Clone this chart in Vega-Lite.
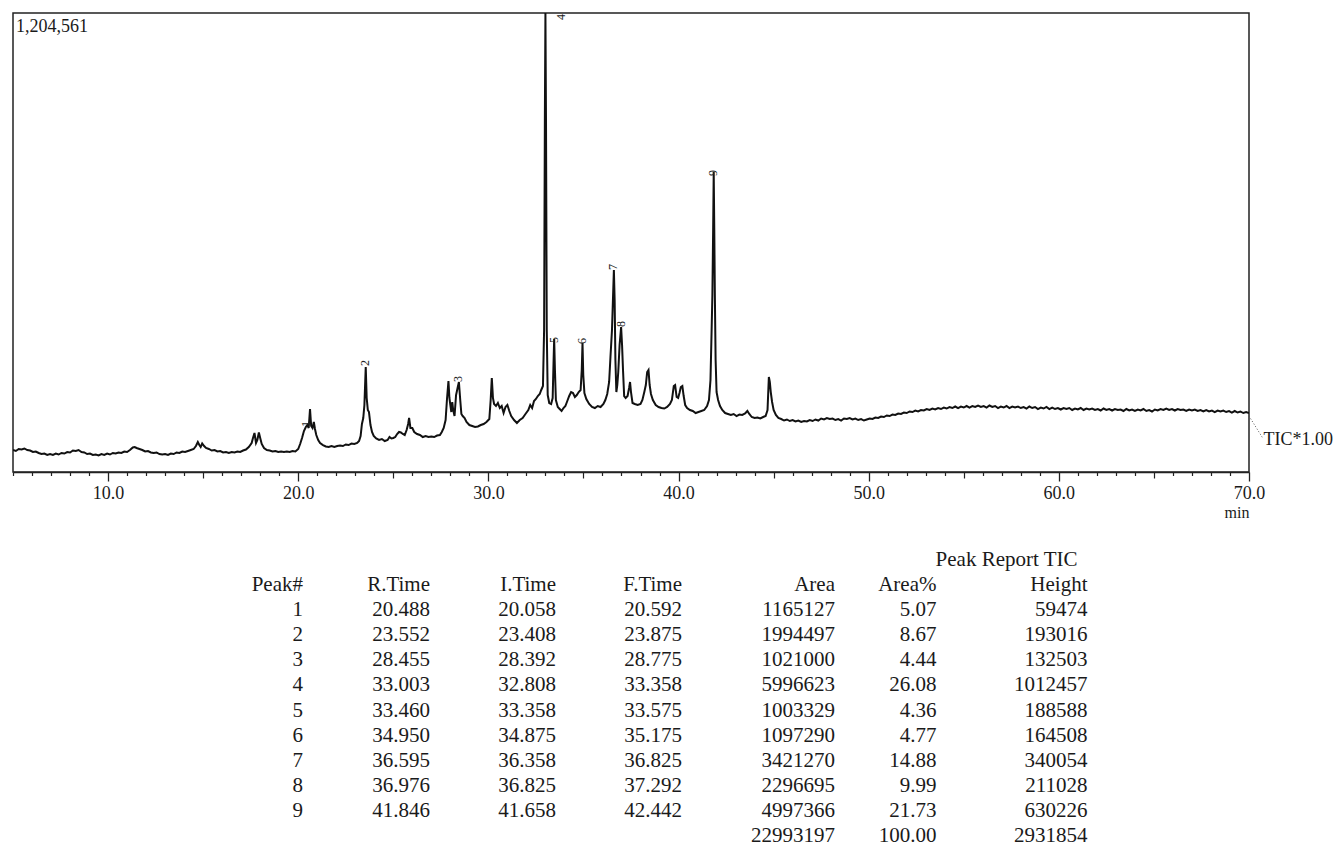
{
"$schema": "https://vega.github.io/schema/vega-lite/v6.json",
"background": "white",
"padding": {"left": 11, "top": 12, "right": 2, "bottom": 0},
"bounds": "flush",
"spacing": 75,
"config": {"font": "Liberation Serif", "view": {"stroke": "#222", "strokeWidth": 1.5}, "text": {"font": "Liberation Serif", "color": "#1a1a1a"}},
"datasets": {
"trace": [
{"t":5.00,"i":57700},{"t":5.15,"i":55100},{"t":5.30,"i":60400},{"t":5.45,"i":59000},{"t":5.60,"i":61700},{"t":5.75,"i":57700},{"t":5.90,"i":56400},{"t":6.05,"i":52500},{"t":6.20,"i":53800},{"t":6.35,"i":49900},{"t":6.50,"i":47200},{"t":6.65,"i":48500},{"t":6.80,"i":44600},{"t":6.95,"i":47200},{"t":7.10,"i":44600},{"t":7.25,"i":48500},{"t":7.40,"i":45900},{"t":7.55,"i":49900},{"t":7.70,"i":48500},{"t":7.85,"i":52500},{"t":8.00,"i":51200},{"t":8.15,"i":56400},{"t":8.30,"i":55100},{"t":8.45,"i":57700},{"t":8.60,"i":52500},{"t":8.75,"i":51200},{"t":8.90,"i":47200},{"t":9.05,"i":48500},{"t":9.20,"i":44600},{"t":9.35,"i":45900},{"t":9.50,"i":43300},{"t":9.65,"i":47200},{"t":9.80,"i":44600},{"t":9.95,"i":48500},{"t":10.10,"i":45900},{"t":10.25,"i":49900},{"t":10.40,"i":48500},{"t":10.55,"i":51200},{"t":10.70,"i":49900},{"t":10.85,"i":53800},{"t":11.00,"i":52500},{"t":11.15,"i":57700},{"t":11.30,"i":64300},{"t":11.40,"i":65600},{"t":11.50,"i":63000},{"t":11.65,"i":60400},{"t":11.80,"i":57700},{"t":11.95,"i":53800},{"t":12.10,"i":55100},{"t":12.25,"i":51200},{"t":12.40,"i":49900},{"t":12.55,"i":51200},{"t":12.70,"i":47200},{"t":12.85,"i":45900},{"t":13.00,"i":47200},{"t":13.15,"i":44600},{"t":13.30,"i":48500},{"t":13.45,"i":47200},{"t":13.60,"i":51200},{"t":13.75,"i":49900},{"t":13.90,"i":53800},{"t":14.05,"i":52500},{"t":14.20,"i":55100},{"t":14.35,"i":57700},{"t":14.50,"i":60400},{"t":14.62,"i":68200},{"t":14.72,"i":78700},{"t":14.80,"i":70800},{"t":14.87,"i":65600},{"t":14.95,"i":74800},{"t":15.05,"i":68200},{"t":15.15,"i":63000},{"t":15.30,"i":60400},{"t":15.45,"i":56400},{"t":15.60,"i":57700},{"t":15.75,"i":53800},{"t":15.90,"i":55100},{"t":16.05,"i":51200},{"t":16.20,"i":52500},{"t":16.35,"i":49900},{"t":16.50,"i":52500},{"t":16.65,"i":51200},{"t":16.80,"i":53800},{"t":16.95,"i":52500},{"t":17.10,"i":56400},{"t":17.25,"i":59000},{"t":17.40,"i":65600},{"t":17.55,"i":76100},{"t":17.62,"i":89200},{"t":17.70,"i":102300},{"t":17.78,"i":76100},{"t":17.85,"i":84000},{"t":17.93,"i":103600},{"t":18.00,"i":89200},{"t":18.08,"i":73500},{"t":18.20,"i":63000},{"t":18.35,"i":57700},{"t":18.50,"i":56400},{"t":18.65,"i":53800},{"t":18.80,"i":55100},{"t":18.95,"i":52500},{"t":19.10,"i":53800},{"t":19.25,"i":52500},{"t":19.40,"i":53800},{"t":19.55,"i":52500},{"t":19.70,"i":55100},{"t":19.85,"i":53800},{"t":20.00,"i":60400},{"t":20.10,"i":73500},{"t":20.20,"i":89200},{"t":20.30,"i":107600},{"t":20.40,"i":118100},{"t":20.48,"i":123300},{"t":20.55,"i":115500},{"t":20.62,"i":165300},{"t":20.68,"i":120700},{"t":20.75,"i":115500},{"t":20.82,"i":131200},{"t":20.88,"i":112800},{"t":20.95,"i":97100},{"t":21.05,"i":84000},{"t":21.15,"i":76100},{"t":21.30,"i":70800},{"t":21.45,"i":66900},{"t":21.60,"i":65600},{"t":21.75,"i":68200},{"t":21.90,"i":65600},{"t":22.05,"i":68200},{"t":22.20,"i":69500},{"t":22.35,"i":68200},{"t":22.50,"i":72200},{"t":22.65,"i":70800},{"t":22.80,"i":74800},{"t":22.95,"i":73500},{"t":23.10,"i":76100},{"t":23.20,"i":81300},{"t":23.28,"i":94500},{"t":23.35,"i":126000},{"t":23.42,"i":141700},{"t":23.48,"i":175800},{"t":23.55,"i":275500},{"t":23.60,"i":194200},{"t":23.66,"i":162700},{"t":23.72,"i":157400},{"t":23.80,"i":123300},{"t":23.88,"i":105000},{"t":23.97,"i":94500},{"t":24.10,"i":87900},{"t":24.25,"i":84000},{"t":24.40,"i":86600},{"t":24.55,"i":81300},{"t":24.70,"i":84000},{"t":24.80,"i":91800},{"t":24.90,"i":87900},{"t":25.00,"i":89200},{"t":25.10,"i":91800},{"t":25.20,"i":99700},{"t":25.30,"i":105000},{"t":25.40,"i":103600},{"t":25.50,"i":99700},{"t":25.60,"i":97100},{"t":25.70,"i":110200},{"t":25.78,"i":126000},{"t":25.83,"i":141700},{"t":25.90,"i":115500},{"t":26.00,"i":115500},{"t":26.10,"i":105000},{"t":26.25,"i":99700},{"t":26.40,"i":97100},{"t":26.55,"i":91800},{"t":26.70,"i":94500},{"t":26.85,"i":91800},{"t":27.00,"i":93200},{"t":27.15,"i":91800},{"t":27.30,"i":95800},{"t":27.45,"i":97100},{"t":27.55,"i":105000},{"t":27.65,"i":115500},{"t":27.75,"i":136400},{"t":27.82,"i":188900},{"t":27.90,"i":238800},{"t":27.95,"i":194200},{"t":28.00,"i":175800},{"t":28.05,"i":157400},{"t":28.10,"i":183700},{"t":28.15,"i":162700},{"t":28.22,"i":146900},{"t":28.30,"i":202000},{"t":28.38,"i":220400},{"t":28.45,"i":236200},{"t":28.52,"i":188900},{"t":28.58,"i":152200},{"t":28.65,"i":146900},{"t":28.75,"i":141700},{"t":28.85,"i":131200},{"t":29.00,"i":123300},{"t":29.15,"i":120700},{"t":29.30,"i":118100},{"t":29.45,"i":119400},{"t":29.60,"i":123300},{"t":29.75,"i":126000},{"t":29.90,"i":131200},{"t":30.05,"i":139100},{"t":30.12,"i":188900},{"t":30.18,"i":246700},{"t":30.24,"i":194200},{"t":30.30,"i":178400},{"t":30.40,"i":173200},{"t":30.50,"i":181100},{"t":30.60,"i":167900},{"t":30.70,"i":173200},{"t":30.80,"i":154800},{"t":30.90,"i":170600},{"t":31.00,"i":175800},{"t":31.10,"i":160100},{"t":31.20,"i":146900},{"t":31.35,"i":136400},{"t":31.50,"i":128600},{"t":31.65,"i":136400},{"t":31.80,"i":141700},{"t":31.95,"i":152200},{"t":32.10,"i":162700},{"t":32.20,"i":175800},{"t":32.30,"i":167900},{"t":32.40,"i":186300},{"t":32.50,"i":191600},{"t":32.60,"i":199400},{"t":32.70,"i":204700},{"t":32.78,"i":215200},{"t":32.87,"i":225700},{"t":32.93,"i":372600},{"t":32.97,"i":923600},{"t":33.00,"i":1204561},{"t":33.03,"i":923600},{"t":33.07,"i":372600},{"t":33.12,"i":202000},{"t":33.20,"i":181100},{"t":33.30,"i":178400},{"t":33.38,"i":194200},{"t":33.43,"i":293900},{"t":33.46,"i":349000},{"t":33.50,"i":267600},{"t":33.55,"i":188900},{"t":33.65,"i":170600},{"t":33.75,"i":165300},{"t":33.85,"i":160100},{"t":33.95,"i":167900},{"t":34.05,"i":173200},{"t":34.15,"i":186300},{"t":34.25,"i":199400},{"t":34.35,"i":209900},{"t":34.45,"i":207300},{"t":34.55,"i":196800},{"t":34.65,"i":202000},{"t":34.75,"i":209900},{"t":34.85,"i":215200},{"t":34.91,"i":267600},{"t":34.95,"i":338500},{"t":34.99,"i":254500},{"t":35.05,"i":207300},{"t":35.15,"i":191600},{"t":35.30,"i":178400},{"t":35.45,"i":170600},{"t":35.60,"i":167900},{"t":35.75,"i":173200},{"t":35.90,"i":170600},{"t":36.05,"i":178400},{"t":36.15,"i":188900},{"t":36.25,"i":204700},{"t":36.35,"i":236200},{"t":36.42,"i":301800},{"t":36.50,"i":372600},{"t":36.55,"i":451300},{"t":36.60,"i":530000},{"t":36.64,"i":451300},{"t":36.68,"i":293900},{"t":36.73,"i":209900},{"t":36.78,"i":228300},{"t":36.83,"i":262400},{"t":36.90,"i":333200},{"t":36.98,"i":380500},{"t":37.03,"i":333200},{"t":37.08,"i":267600},{"t":37.14,"i":199400},{"t":37.22,"i":194200},{"t":37.32,"i":199400},{"t":37.40,"i":220400},{"t":37.45,"i":236200},{"t":37.50,"i":209900},{"t":37.58,"i":181100},{"t":37.70,"i":178400},{"t":37.85,"i":175800},{"t":38.00,"i":178400},{"t":38.10,"i":188900},{"t":38.20,"i":209900},{"t":38.28,"i":228300},{"t":38.35,"i":262400},{"t":38.42,"i":267600},{"t":38.48,"i":228300},{"t":38.55,"i":204700},{"t":38.65,"i":188900},{"t":38.80,"i":175800},{"t":38.95,"i":170600},{"t":39.10,"i":167900},{"t":39.25,"i":166600},{"t":39.40,"i":170600},{"t":39.55,"i":178400},{"t":39.65,"i":188900},{"t":39.75,"i":225700},{"t":39.82,"i":228300},{"t":39.90,"i":196800},{"t":39.98,"i":194200},{"t":40.05,"i":207300},{"t":40.12,"i":223000},{"t":40.20,"i":225700},{"t":40.27,"i":199400},{"t":40.35,"i":175800},{"t":40.45,"i":167900},{"t":40.60,"i":162700},{"t":40.75,"i":160100},{"t":40.90,"i":154800},{"t":41.05,"i":157400},{"t":41.20,"i":160100},{"t":41.35,"i":162700},{"t":41.50,"i":173200},{"t":41.60,"i":188900},{"t":41.68,"i":241400},{"t":41.74,"i":372600},{"t":41.78,"i":464400},{"t":41.82,"i":635000},{"t":41.85,"i":787200},{"t":41.88,"i":635000},{"t":41.91,"i":464400},{"t":41.95,"i":293900},{"t":42.00,"i":209900},{"t":42.08,"i":188900},{"t":42.18,"i":173200},{"t":42.30,"i":162700},{"t":42.45,"i":154800},{"t":42.60,"i":152200},{"t":42.75,"i":149600},{"t":42.90,"i":152200},{"t":43.05,"i":146900},{"t":43.20,"i":150900},{"t":43.35,"i":149600},{"t":43.50,"i":153500},{"t":43.62,"i":160100},{"t":43.72,"i":152200},{"t":43.85,"i":144300},{"t":44.00,"i":141700},{"t":44.15,"i":143000},{"t":44.30,"i":140400},{"t":44.45,"i":144300},{"t":44.58,"i":146900},{"t":44.68,"i":162700},{"t":44.75,"i":249300},{"t":44.80,"i":236200},{"t":44.85,"i":209900},{"t":44.92,"i":183700},{"t":45.00,"i":162700},{"t":45.12,"i":149600},{"t":45.25,"i":141700},{"t":45.40,"i":139100},{"t":45.55,"i":135100},{"t":45.70,"i":137800},{"t":45.85,"i":133800},{"t":46.00,"i":136400},{"t":46.15,"i":132500},{"t":46.30,"i":135100},{"t":46.45,"i":131200},{"t":46.60,"i":133800},{"t":46.75,"i":132500},{"t":46.90,"i":136400},{"t":47.05,"i":133800},{"t":47.20,"i":137800},{"t":47.35,"i":135100},{"t":47.50,"i":140400},{"t":47.65,"i":137800},{"t":47.80,"i":141700},{"t":47.95,"i":139100},{"t":48.10,"i":140400},{"t":48.25,"i":136400},{"t":48.40,"i":139100},{"t":48.55,"i":135100},{"t":48.70,"i":140400},{"t":48.85,"i":139100},{"t":49.00,"i":141700},{"t":49.15,"i":137800},{"t":49.30,"i":140400},{"t":49.45,"i":136400},{"t":49.60,"i":139100},{"t":49.75,"i":135100},{"t":49.90,"i":137800},{"t":50.05,"i":140400},{"t":50.20,"i":139100},{"t":50.35,"i":143000},{"t":50.50,"i":141700},{"t":50.65,"i":145600},{"t":50.80,"i":144300},{"t":50.95,"i":148300},{"t":51.10,"i":146900},{"t":51.25,"i":150900},{"t":51.40,"i":149600},{"t":51.55,"i":153500},{"t":51.70,"i":152200},{"t":51.85,"i":156100},{"t":52.00,"i":154800},{"t":52.15,"i":158800},{"t":52.30,"i":157400},{"t":52.45,"i":161400},{"t":52.60,"i":158800},{"t":52.75,"i":162700},{"t":52.90,"i":161400},{"t":53.05,"i":165300},{"t":53.20,"i":162700},{"t":53.35,"i":166600},{"t":53.50,"i":164000},{"t":53.65,"i":167900},{"t":53.80,"i":165300},{"t":53.95,"i":169200},{"t":54.10,"i":166600},{"t":54.25,"i":170600},{"t":54.40,"i":167900},{"t":54.55,"i":171900},{"t":54.70,"i":167900},{"t":54.85,"i":171900},{"t":55.00,"i":169200},{"t":55.15,"i":173200},{"t":55.30,"i":169200},{"t":55.45,"i":173200},{"t":55.60,"i":170600},{"t":55.75,"i":174500},{"t":55.90,"i":170600},{"t":56.05,"i":173200},{"t":56.20,"i":169200},{"t":56.35,"i":174500},{"t":56.50,"i":170600},{"t":56.65,"i":173200},{"t":56.80,"i":167900},{"t":56.95,"i":171900},{"t":57.10,"i":169200},{"t":57.25,"i":173200},{"t":57.40,"i":167900},{"t":57.55,"i":171900},{"t":57.70,"i":169200},{"t":57.85,"i":171900},{"t":58.00,"i":167900},{"t":58.15,"i":170600},{"t":58.30,"i":166600},{"t":58.45,"i":171900},{"t":58.60,"i":167900},{"t":58.75,"i":170600},{"t":58.90,"i":165300},{"t":59.05,"i":169200},{"t":59.20,"i":166600},{"t":59.35,"i":170600},{"t":59.50,"i":165300},{"t":59.65,"i":169200},{"t":59.80,"i":165300},{"t":59.95,"i":167900},{"t":60.10,"i":164000},{"t":60.25,"i":167900},{"t":60.40,"i":165300},{"t":60.55,"i":167900},{"t":60.70,"i":162700},{"t":60.85,"i":166600},{"t":61.00,"i":164000},{"t":61.15,"i":167900},{"t":61.30,"i":162700},{"t":61.45,"i":166600},{"t":61.60,"i":164000},{"t":61.75,"i":166600},{"t":61.90,"i":162700},{"t":62.05,"i":165300},{"t":62.20,"i":161400},{"t":62.35,"i":166600},{"t":62.50,"i":162700},{"t":62.65,"i":165300},{"t":62.80,"i":161400},{"t":62.95,"i":165300},{"t":63.10,"i":162700},{"t":63.25,"i":164000},{"t":63.40,"i":160100},{"t":63.55,"i":165300},{"t":63.70,"i":161400},{"t":63.85,"i":164000},{"t":64.00,"i":160100},{"t":64.15,"i":164000},{"t":64.30,"i":161400},{"t":64.45,"i":165300},{"t":64.60,"i":160100},{"t":64.75,"i":162700},{"t":64.90,"i":158800},{"t":65.05,"i":164000},{"t":65.20,"i":161400},{"t":65.35,"i":165300},{"t":65.50,"i":162700},{"t":65.65,"i":166600},{"t":65.80,"i":162700},{"t":65.95,"i":165300},{"t":66.10,"i":161400},{"t":66.25,"i":165300},{"t":66.40,"i":162700},{"t":66.55,"i":164000},{"t":66.70,"i":160100},{"t":66.85,"i":164000},{"t":67.00,"i":161400},{"t":67.15,"i":164000},{"t":67.30,"i":160100},{"t":67.45,"i":162700},{"t":67.60,"i":158800},{"t":67.75,"i":162700},{"t":67.90,"i":158800},{"t":68.05,"i":161400},{"t":68.20,"i":157400},{"t":68.35,"i":161400},{"t":68.50,"i":158800},{"t":68.65,"i":161400},{"t":68.80,"i":157400},{"t":68.95,"i":160100},{"t":69.10,"i":156100},{"t":69.25,"i":160100},{"t":69.40,"i":156100},{"t":69.55,"i":158800},{"t":69.70,"i":154800},{"t":69.85,"i":157400},{"t":70.00,"i":154800}
],
"peaklabels": [
{"n":"1","t":20.40,"i":118100},{"n":"2","t":23.53,"i":278100},{"n":"3","t":28.40,"i":236200},{"n":"4","t":33.81,"i":1186000},{"n":"5","t":33.43,"i":338500},{"n":"6","t":34.92,"i":335900},{"n":"7","t":36.55,"i":530000},{"n":"8","t":36.97,"i":380500},{"n":"9","t":41.79,"i":776700}
],
"columns": [
{"key":"peak","label":"Peak#","col":1,"row":"header"},{"key":"rtime","label":"R.Time","col":2,"row":"header"},{"key":"itime","label":"I.Time","col":3,"row":"header"},{"key":"ftime","label":"F.Time","col":4,"row":"header"},{"key":"area","label":"Area","col":5,"row":"header"},{"key":"pct","label":"Area%","col":6,"row":"header"},{"key":"height","label":"Height","col":7,"row":"header"}
],
"peaktable": [
{"row":"1","peak":"1","rtime":"20.488","itime":"20.058","ftime":"20.592","area":"1165127","pct":"5.07","height":"59474"},
{"row":"2","peak":"2","rtime":"23.552","itime":"23.408","ftime":"23.875","area":"1994497","pct":"8.67","height":"193016"},
{"row":"3","peak":"3","rtime":"28.455","itime":"28.392","ftime":"28.775","area":"1021000","pct":"4.44","height":"132503"},
{"row":"4","peak":"4","rtime":"33.003","itime":"32.808","ftime":"33.358","area":"5996623","pct":"26.08","height":"1012457"},
{"row":"5","peak":"5","rtime":"33.460","itime":"33.358","ftime":"33.575","area":"1003329","pct":"4.36","height":"188588"},
{"row":"6","peak":"6","rtime":"34.950","itime":"34.875","ftime":"35.175","area":"1097290","pct":"4.77","height":"164508"},
{"row":"7","peak":"7","rtime":"36.595","itime":"36.358","ftime":"36.825","area":"3421270","pct":"14.88","height":"340054"},
{"row":"8","peak":"8","rtime":"36.976","itime":"36.825","ftime":"37.292","area":"2296695","pct":"9.99","height":"211028"},
{"row":"9","peak":"9","rtime":"41.846","itime":"41.658","ftime":"42.442","area":"4997366","pct":"21.73","height":"630226"},
{"row":"total","peak":"","rtime":"","itime":"","ftime":"","area":"22993197","pct":"100.00","height":"2931854"}
]
},
"vconcat": [
{
"width": 1236, "height": 459,
"resolve": {"axis": {"x": "independent"}},
"layer": [
{"data": {"name": "trace"},
 "mark": {"type": "line", "color": "#111", "strokeWidth": 2, "clip": true},
 "encoding": {
  "x": {"field": "t", "type": "quantitative", "scale": {"domain": [5, 70], "nice": false, "zero": false},
   "axis": {"orient": "bottom", "values": [10,20,30,40,50,60,70], "format": ".1f",
    "labelOverlap": false, "labelFlush": false, "labelFont": "Liberation Serif", "labelFontSize": 18, "labelColor": "#1a1a1a", "labelPadding": 3,
    "tickColor": "#222", "tickWidth": 1.3, "tickSize": 9,
    "domain": true, "domainColor": "#222", "domainWidth": 1.5, "grid": false,
    "title": "min", "titleAnchor": "end", "titleFont": "Liberation Serif", "titleFontSize": 16, "titleFontWeight": "normal", "titleColor": "#1a1a1a", "titlePadding": 2}},
  "y": {"field": "i", "type": "quantitative", "scale": {"domain": [0, 1204561], "nice": false, "zero": false}, "axis": null}
 }},
{"data": {"name": "peaklabels"},
 "mark": {"type": "text", "angle": 270, "align": "left", "baseline": "middle", "fontSize": 12, "color": "#222"},
 "encoding": {
  "x": {"field": "t", "type": "quantitative",
   "axis": {"orient": "bottom", "values": [5,6,7,8,9,11,12,13,14,16,17,18,19,21,22,23,24,26,27,28,29,31,32,33,34,36,37,38,39,41,42,43,44,46,47,48,49,51,52,53,54,56,57,58,59,61,62,63,64,66,67,68,69],
    "labels": false, "domain": false, "grid": false, "title": null, "tickColor": "#222", "tickWidth": 1.2, "tickSize": 3.5}},
  "y": {"field": "i", "type": "quantitative", "axis": null}, "text": {"field": "n"}}},
{"data": {"values": [{"label": "1,204,561", "t": 5, "i": 1204561}]},
 "mark": {"type": "text", "align": "left", "baseline": "top", "dx": 3, "dy": 5, "fontSize": 18},
 "encoding": {
  "x": {"field": "t", "type": "quantitative",
   "axis": {"orient": "bottom", "values": [15,25,35,45,55,65], "labels": false, "domain": false, "grid": false, "title": null, "tickColor": "#222", "tickWidth": 1.2, "tickSize": 6}},
  "y": {"field": "i", "type": "quantitative", "axis": null}, "text": {"field": "label"}}},
{"data": {"values": [{"t": 70, "i": 146900, "t2": 70.72, "i2": 89200}]},
 "mark": {"type": "rule", "color": "#555", "strokeWidth": 1, "strokeDash": [1, 2]},
 "encoding": {"x": {"field": "t", "type": "quantitative", "axis": null}, "y": {"field": "i", "type": "quantitative", "axis": null}, "x2": {"field": "t2"}, "y2": {"field": "i2"}}},
{"data": {"values": [{"label": "TIC*1.00", "t": 70.76, "i": 84000}]},
 "mark": {"type": "text", "align": "left", "baseline": "middle", "fontSize": 18},
 "encoding": {"x": {"field": "t", "type": "quantitative", "axis": null}, "y": {"field": "i", "type": "quantitative", "axis": null}, "text": {"field": "label"}}}
]
},
{
"width": 1236, "height": 302,
"view": {"stroke": null},
"layer": [
{"data": {"name": "columns"},
 "mark": {"type": "text", "align": "right", "baseline": "middle", "fontSize": 21},
 "encoding": {
  "x": {"field": "col", "type": "quantitative", "scale": {"domain": [1,2,3,4,5,6,7], "range": [290,417,543,669,822,923.5,1074.5], "nice": false, "zero": false}, "axis": null},
  "y": {"field": "row", "type": "nominal", "scale": {"type": "point", "domain": ["title","header","1","2","3","4","5","6","7","8","9","total"], "padding": 0.5}, "axis": null},
  "text": {"field": "label"}}},
{"data": {"name": "peaktable"},
 "transform": [{"fold": ["peak","rtime","itime","ftime","area","pct","height"]}, {"lookup": "key", "from": {"data": {"name": "columns"}, "key": "key", "fields": ["col"]}}],
 "mark": {"type": "text", "align": "right", "baseline": "middle", "fontSize": 21},
 "encoding": {"x": {"field": "col", "type": "quantitative"}, "y": {"field": "row", "type": "nominal"}, "text": {"field": "value"}}},
{"data": {"values": [{"label": "Peak Report TIC", "col": 7, "row": "title"}]},
 "mark": {"type": "text", "align": "right", "baseline": "middle", "fontSize": 21, "dx": -10},
 "encoding": {"x": {"field": "col", "type": "quantitative"}, "y": {"field": "row", "type": "nominal"}, "text": {"field": "label"}}}
]
}
]
}
